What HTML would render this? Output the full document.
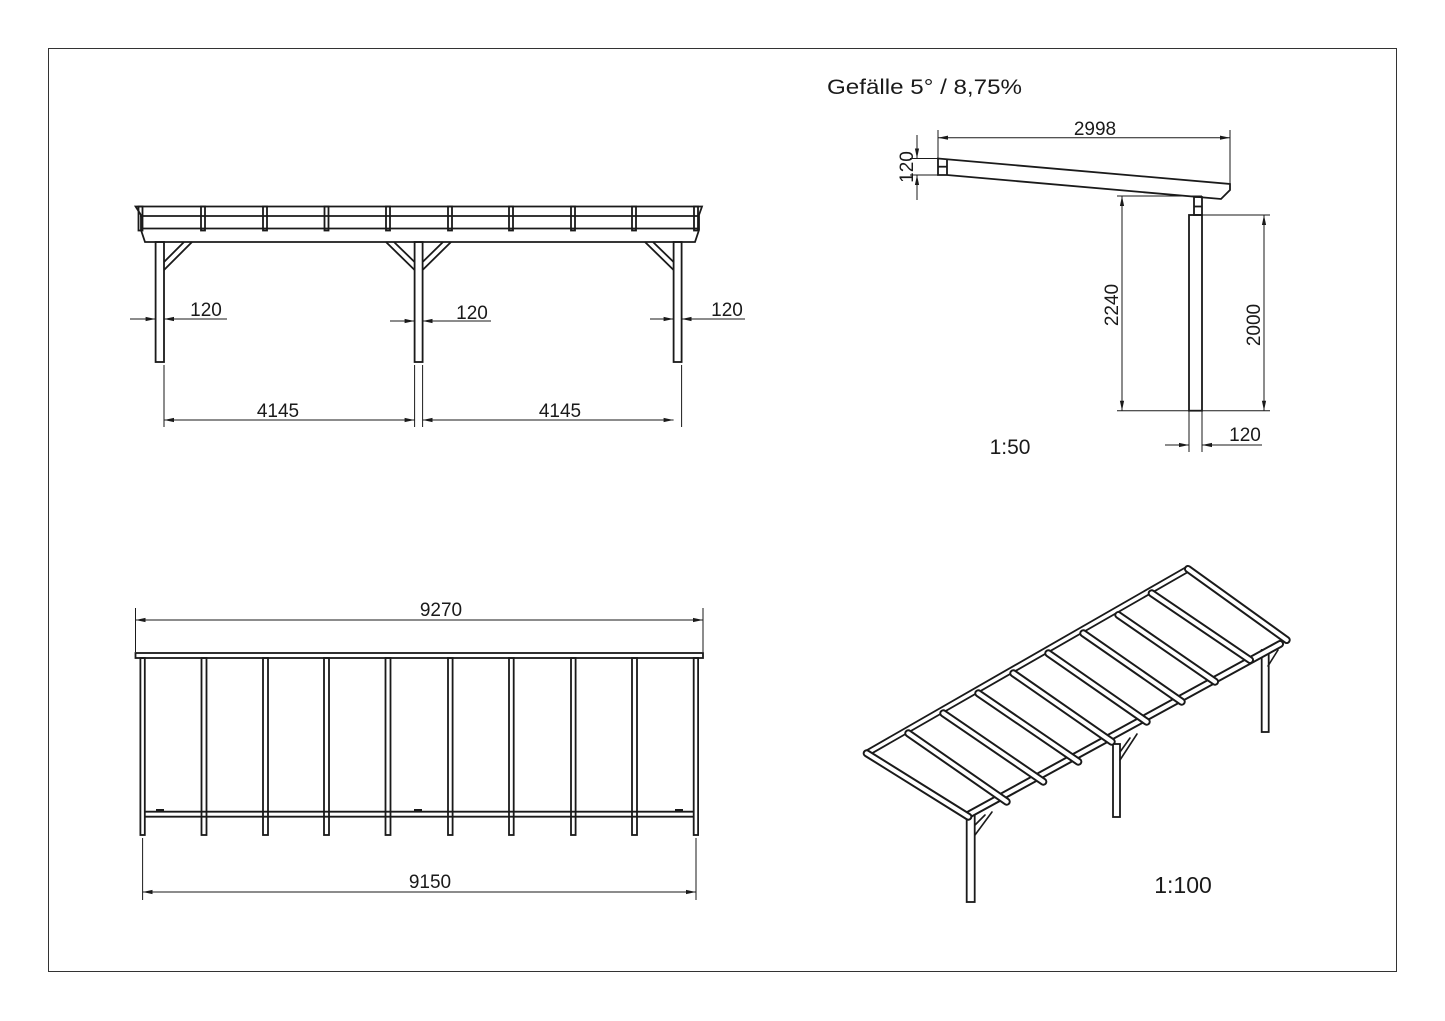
<!DOCTYPE html>
<html><head><meta charset="utf-8"><style>
html,body{margin:0;padding:0;background:#fff;}
svg{display:block;}
text{font-family:"Liberation Sans","DejaVu Sans",sans-serif;fill:#1a1a1a;}
</style></head><body>
<svg width="1445" height="1021" viewBox="0 0 1445 1021" xmlns="http://www.w3.org/2000/svg">
<defs>
<marker id="a" markerWidth="10" markerHeight="6" refX="10" refY="3" orient="auto-start-reverse" markerUnits="userSpaceOnUse"><path d="M0,0.9 L10,3 L0,5.1Z" fill="#1a1a1a"/></marker>
</defs>
<rect x="48.5" y="48.5" width="1348" height="923" fill="none" stroke="#333" stroke-width="1"/>

<!-- ===== Front view ===== -->
<g fill="none" stroke="#1a1a1a" stroke-width="1.8">
<path d="M135.6,206.5 L702,206.5 L699,215 L699,230 L695,242 L145,242 L141,230 L141,215 Z"/>
<line x1="140" y1="216" x2="699" y2="216"/>
<line x1="141" y1="228.5" x2="699" y2="228.5"/>
<g>
<rect x="138.5" y="206.5" width="4" height="24"/>
<rect x="201" y="206.5" width="4" height="24"/>
<rect x="263" y="206.5" width="4" height="24"/>
<rect x="324.5" y="206.5" width="4" height="24"/>
<rect x="386" y="206.5" width="4" height="24"/>
<rect x="448" y="206.5" width="4" height="24"/>
<rect x="509" y="206.5" width="4" height="24"/>
<rect x="571" y="206.5" width="4" height="24"/>
<rect x="632" y="206.5" width="4" height="24"/>
<rect x="694" y="206.5" width="4" height="24"/>
</g>
<rect x="155.6" y="242" width="8.4" height="120"/>
<rect x="414.6" y="242" width="8" height="120"/>
<rect x="673.6" y="242" width="8" height="120"/>
<path d="M164,270 L192,242 M164,262 L184,242"/>
<path d="M414.6,270 L386,242 M414.6,262 L394,242"/>
<path d="M422.6,270 L451,242 M422.6,262 L443,242"/>
<path d="M673.6,270 L645,242 M673.6,262 L653,242"/>
</g>
<g stroke="#1a1a1a" stroke-width="1" fill="none">
<line x1="130" y1="319" x2="155.6" y2="319" marker-end="url(#a)"/>
<line x1="227" y1="319" x2="164" y2="319" marker-end="url(#a)"/>
<line x1="390" y1="321" x2="414.6" y2="321" marker-end="url(#a)"/>
<line x1="491" y1="321" x2="422.6" y2="321" marker-end="url(#a)"/>
<line x1="650" y1="319" x2="673.6" y2="319" marker-end="url(#a)"/>
<line x1="745" y1="319" x2="681.6" y2="319" marker-end="url(#a)"/>
<line x1="164" y1="365" x2="164" y2="427"/>
<line x1="414.6" y1="365" x2="414.6" y2="427"/>
<line x1="422.6" y1="365" x2="422.6" y2="427"/>
<line x1="681.6" y1="365" x2="681.6" y2="427"/>
<line x1="164" y1="420" x2="414.6" y2="420" marker-start="url(#a)" marker-end="url(#a)"/>
<line x1="422.6" y1="420" x2="673.6" y2="420" marker-start="url(#a)" marker-end="url(#a)"/>
</g>
<g font-size="19" text-anchor="middle">
<text x="206" y="316">120</text>
<text x="472" y="319">120</text>
<text x="727" y="316">120</text>
<text x="278" y="417">4145</text>
<text x="560" y="417">4145</text>
</g>

<!-- ===== Side view ===== -->
<text x="827" y="94" font-size="21" textLength="195" lengthAdjust="spacingAndGlyphs">Gefälle 5° / 8,75%</text>
<g fill="none" stroke="#1a1a1a" stroke-width="1.8">
<path d="M938,158.5 L1230,184 L1230,190 L1221,199 L947,175 L938,175 Z"/>
<line x1="947" y1="158.5" x2="947" y2="175"/>
<line x1="938" y1="166.7" x2="947" y2="166.7"/>
<rect x="1194" y="197" width="8" height="18"/>
<line x1="1194" y1="206.5" x2="1202" y2="206.5"/>
<rect x="1189" y="215" width="13" height="195.7"/>
</g>
<g stroke="#1a1a1a" stroke-width="1" fill="none">
<line x1="938" y1="130" x2="938" y2="158"/>
<line x1="1230" y1="130" x2="1230" y2="183"/>
<line x1="938" y1="137.7" x2="1230" y2="137.7" marker-start="url(#a)" marker-end="url(#a)"/>
<line x1="910" y1="158.5" x2="938" y2="158.5"/>
<line x1="910" y1="175" x2="938" y2="175"/>
<line x1="917" y1="135" x2="917" y2="158.5" marker-end="url(#a)"/>
<line x1="917" y1="200" x2="917" y2="175" marker-end="url(#a)"/>
<line x1="1117" y1="196" x2="1202" y2="196"/>
<line x1="1117" y1="410.7" x2="1189" y2="410.7"/>
<line x1="1122" y1="196" x2="1122" y2="410.7" marker-start="url(#a)" marker-end="url(#a)"/>
<line x1="1203" y1="215" x2="1270" y2="215"/>
<line x1="1202" y1="410.7" x2="1270" y2="410.7"/>
<line x1="1264" y1="215" x2="1264" y2="410.7" marker-start="url(#a)" marker-end="url(#a)"/>
<line x1="1189" y1="411" x2="1189" y2="452"/>
<line x1="1202" y1="411" x2="1202" y2="452"/>
<line x1="1165" y1="445" x2="1189" y2="445" marker-end="url(#a)"/>
<line x1="1262" y1="445" x2="1202" y2="445" marker-end="url(#a)"/>
</g>
<g font-size="19" text-anchor="middle">
<text x="1095" y="135">2998</text>
<text x="1245" y="441">120</text>
<text transform="translate(913,167) rotate(-90)">120</text>
<text transform="translate(1118,305) rotate(-90)">2240</text>
<text transform="translate(1260,325) rotate(-90)">2000</text>
</g>
<text x="1010" y="454" font-size="21" text-anchor="middle">1:50</text>

<!-- ===== Plan view ===== -->
<g stroke="#1a1a1a" stroke-width="1" fill="none">
<line x1="135.5" y1="608" x2="135.5" y2="652"/>
<line x1="703" y1="608" x2="703" y2="652"/>
<line x1="135.5" y1="620" x2="703" y2="620" marker-start="url(#a)" marker-end="url(#a)"/>
<line x1="142.6" y1="838" x2="142.6" y2="900"/>
<line x1="696" y1="838" x2="696" y2="900"/>
<line x1="142.6" y1="892" x2="696" y2="892" marker-start="url(#a)" marker-end="url(#a)"/>
</g>
<g fill="none" stroke="#1a1a1a" stroke-width="1.8">
<rect x="135.5" y="653" width="567.5" height="5"/>
<line x1="144.8" y1="811.7" x2="693.7" y2="811.7"/>
<line x1="144.8" y1="816.7" x2="693.7" y2="816.7"/>
<rect x="140.4" y="658" width="4.4" height="177"/>
<rect x="201.5" y="658" width="5" height="177"/>
<rect x="263" y="658" width="5" height="177"/>
<rect x="324" y="658" width="5" height="177"/>
<rect x="385.5" y="658" width="5" height="177"/>
<rect x="448" y="658" width="4.6" height="177"/>
<rect x="509" y="658" width="4.7" height="177"/>
<rect x="571" y="658" width="4.6" height="177"/>
<rect x="632" y="658" width="5" height="177"/>
<rect x="693.7" y="658" width="4.4" height="177"/>
</g>
<g fill="#1a1a1a">
<rect x="156" y="809" width="8" height="2"/>
<rect x="414" y="809" width="8" height="2"/>
<rect x="675" y="809" width="8" height="2"/>
</g>
<g font-size="19" text-anchor="middle">
<text x="441" y="616">9270</text>
<text x="430" y="888">9150</text>
</g>

<!-- ===== Isometric ===== -->
<g stroke-linecap="round" fill="none">
<g stroke="#1a1a1a" stroke-width="1.8" fill="#fff">
<rect x="966.7" y="815" width="8" height="87"/>
<rect x="1113" y="744" width="7" height="73"/>
<rect x="1261.7" y="650" width="7" height="82"/>
</g>
<g stroke="#1a1a1a" stroke-width="1.6">
<path d="M975,835 L992,812 M975,825 L985,815"/>
<path d="M1120,760 L1137,734 M1120,752 L1130,738"/>
<path d="M1268,666 L1278,650"/>
</g>
<g stroke="#1a1a1a" stroke-width="8"><line x1="968" y1="815" x2="1280" y2="644"/></g>
<g stroke="#fff" stroke-width="4"><line x1="968" y1="815" x2="1280" y2="644"/></g>
<g stroke="#1a1a1a" stroke-width="7"><line x1="866.7" y1="753.3" x2="1188" y2="569"/></g>
<g stroke="#fff" stroke-width="3.4"><line x1="866.7" y1="753.3" x2="1188" y2="569"/></g>
<g stroke="#1a1a1a" stroke-width="8">
<line x1="866.7" y1="753.3" x2="968.3" y2="816.7"/>
<line x1="908.3" y1="733.3" x2="1006.7" y2="801.7"/>
<line x1="943.3" y1="713.3" x2="1043.3" y2="781.7"/>
<line x1="978.3" y1="693.3" x2="1078.3" y2="761.7"/>
<line x1="1013.3" y1="673.3" x2="1111.7" y2="741.7"/>
<line x1="1048.3" y1="653.3" x2="1146.7" y2="721.7"/>
<line x1="1083.3" y1="633.3" x2="1181.7" y2="701.7"/>
<line x1="1118.3" y1="615" x2="1215" y2="681.7"/>
<line x1="1151.7" y1="593.3" x2="1250" y2="660"/>
<line x1="1188" y1="569" x2="1286.7" y2="640"/>
</g>
<g stroke="#fff" stroke-width="4">
<line x1="866.7" y1="753.3" x2="968.3" y2="816.7"/>
<line x1="908.3" y1="733.3" x2="1006.7" y2="801.7"/>
<line x1="943.3" y1="713.3" x2="1043.3" y2="781.7"/>
<line x1="978.3" y1="693.3" x2="1078.3" y2="761.7"/>
<line x1="1013.3" y1="673.3" x2="1111.7" y2="741.7"/>
<line x1="1048.3" y1="653.3" x2="1146.7" y2="721.7"/>
<line x1="1083.3" y1="633.3" x2="1181.7" y2="701.7"/>
<line x1="1118.3" y1="615" x2="1215" y2="681.7"/>
<line x1="1151.7" y1="593.3" x2="1250" y2="660"/>
<line x1="1188" y1="569" x2="1286.7" y2="640"/>
</g>
</g>
<text x="1183" y="893" font-size="23" text-anchor="middle">1:100</text>
</svg>
</body></html>
